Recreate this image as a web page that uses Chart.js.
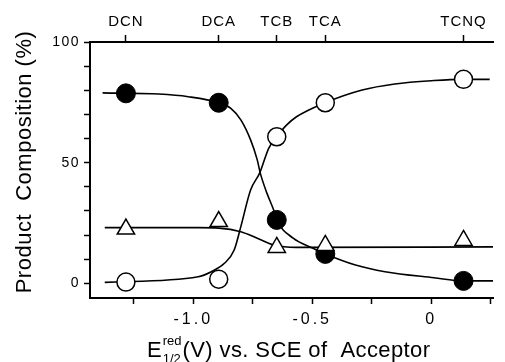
<!DOCTYPE html>
<html><head><meta charset="utf-8">
<script src="https://cdn.jsdelivr.net/npm/chart.js@4.4.1/dist/chart.umd.min.js"></script>
<style>html,body{margin:0;padding:0;background:#fff;}#wrap{width:505px;height:362px;}</style>
</head><body><div id="wrap"><canvas id="c" width="505" height="362"></canvas></div>
<script>
// ---- data ----
const acceptors = ['DCN', 'DCA', 'TCB', 'TCA', 'TCNQ'];
const acceptorE = [-1.283, -0.893, -0.649, -0.445, 0.136];
const filledPct = [78.8, 74.9, 26.3, 12.2, 1.0];
const openPct = [0.5, 1.7, 60.8, 74.9, 84.6];
const trianglePct = [22.5, 25.6, 14.9, 15.7, 17.8];

// smooth fitted curves
const filledCurveE = [-1.381, -1.145, -1.021, -0.893, -0.842, -0.800, -0.759, -0.731, -0.718, -0.690, -0.662, -0.649, -0.580, -0.497, -0.445, -0.318, -0.194, 0.012, 0.136, 0.260];
const filledCurvePct = [79.0, 78.5, 77.4, 74.9, 72.6, 67.8, 59.5, 51.2, 45.6, 37.3, 30.4, 26.3, 18.7, 14.5, 12.2, 7.6, 4.8, 2.3, 1.0, 1.0];
const openCurveE = [-1.372, -0.979, -0.924, -0.869, -0.828, -0.800, -0.759, -0.720, -0.683, -0.649, -0.607, -0.566, -0.446, -0.290, -0.153, 0.012, 0.132, 0.246];
const openCurvePct = [0.4, 2.7, 4.8, 8.3, 13.8, 23.5, 38.7, 45.9, 56.0, 60.8, 65.7, 69.1, 74.9, 80.2, 82.7, 84.1, 84.6, 84.6];
const triCurveE = [-1.372, -0.979, -0.893, -0.800, -0.731, -0.662, -0.566, 0.260];
const triCurvePct = [23.1, 23.1, 22.9, 21.4, 18.7, 15.9, 14.9, 15.1];

const xTicks = [-1.25, -1.0, -0.75, -0.5, -0.25, 0, 0.25];
const xLabelled = [-1.0, -0.5, 0];
const xLabelText = ['-1.0', '-0.5', '0'];
const yTicks = [0, 10, 20, 30, 40, 50, 60, 70, 80, 90, 100];
const yLabelled = [0, 50, 100];

const yTitle = 'Product  Composition (%)';
const xTitleMain = 'E', xTitleSup = 'red', xTitleSub = '1/2', xTitleRest = '(V) vs. SCE of  Acceptor';

const pts = (xs, ys) => xs.map((x, i) => ({x, y: ys[i]}));
const FONT = '"Liberation Sans", Arial, sans-serif';

const spacingPlugin = {
  id: 'spacing',
  beforeDraw(chart) {
    const sp = {x: '3px', x2: '1px', y: '1.5px'};
    for (const id in sp) {
      const s = chart.scales[id];
      if (!s || s._wrapped) continue;
      const orig = s.drawLabels.bind(s);
      s.drawLabels = function (area) {
        const c = this.ctx; const prev = c.letterSpacing;
        c.letterSpacing = sp[id]; orig(area); c.letterSpacing = prev || '0px';
      };
      s._wrapped = true;
    }
  }
};

const titlePlugin = {
  id: 'titles',
  afterDraw(chart) {
    const ctx = chart.ctx, a = chart.chartArea;
    ctx.save();
    ctx.fillStyle = '#000';
    ctx.textAlign = 'left';
    ctx.textBaseline = 'alphabetic';
    // x title
    let x = a.left + 57, y = 357;
    ctx.font = '22px ' + FONT;
    ctx.fillText(xTitleMain, x, y);
    x += ctx.measureText(xTitleMain).width + 1;
    ctx.font = '13px ' + FONT;
    ctx.fillText(xTitleSup, x, y - 12);
    ctx.fillText(xTitleSub, x, y + 6);
    x += Math.max(ctx.measureText(xTitleSup).width, ctx.measureText(xTitleSub).width) + 1;
    ctx.font = '22px ' + FONT;
    ctx.letterSpacing = '0.4px';
    ctx.fillText(xTitleRest, x, y);
    // y title
    ctx.translate(31, 162);
    ctx.rotate(-Math.PI / 2);
    ctx.textAlign = 'center';
    ctx.letterSpacing = '0.5px';
    ctx.fillText(yTitle, 0, 0);
    ctx.restore();
  }
};

const axisGrid = {display: true, drawOnChartArea: false, drawTicks: true, tickLength: 6, tickWidth: 1.5, tickColor: '#000'};
const axisBorder = {display: true, color: '#000', width: 2};

new Chart(document.getElementById('c'), {
  type: 'scatter',
  data: {
    datasets: [
      {label: 'triangle', data: pts(acceptorE, trianglePct), pointStyle: 'triangle', pointRadius: 10, pointBackgroundColor: '#fff', pointBorderColor: '#000', pointBorderWidth: 1.5, showLine: false, order: 0},
      {label: 'open', data: pts(acceptorE, openPct), pointStyle: 'circle', pointRadius: 9, pointBackgroundColor: '#fff', pointBorderColor: '#000', pointBorderWidth: 1.5, showLine: false, order: 1},
      {label: 'filled', data: pts(acceptorE, filledPct), pointStyle: 'circle', pointRadius: 9.5, pointBackgroundColor: '#000', pointBorderColor: '#000', pointBorderWidth: 1, showLine: false, order: 2},
      {label: 'filled fit', data: pts(filledCurveE, filledCurvePct), showLine: true, pointRadius: 0, borderColor: '#000', borderWidth: 1.6, cubicInterpolationMode: 'monotone', order: 5},
      {label: 'open fit', data: pts(openCurveE, openCurvePct), showLine: true, pointRadius: 0, borderColor: '#000', borderWidth: 1.6, cubicInterpolationMode: 'monotone', order: 5},
      {label: 'tri fit', data: pts(triCurveE, triCurvePct), showLine: true, pointRadius: 0, borderColor: '#000', borderWidth: 1.6, cubicInterpolationMode: 'monotone', order: 5}
    ]
  },
  options: {
    responsive: false,
    animation: false,
    devicePixelRatio: 1,
    layout: {padding: {left: 0, right: 5, top: 0, bottom: 32}},
    plugins: {legend: {display: false}, tooltip: {enabled: false}},
    scales: {
      x: {
        type: 'linear', position: 'bottom', min: -1.434, max: 0.262,
        grid: axisGrid, border: axisBorder,
        afterBuildTicks: s => { s.ticks = xTicks.map(v => ({value: v})); },
        afterFit: s => { s.height = 32; },
        ticks: {
          color: '#000', padding: 6, maxRotation: 0, autoSkip: false,
          font: {family: FONT, size: 16},
          callback: v => { const i = xLabelled.findIndex(t => Math.abs(t - v) < 1e-6); return i >= 0 ? xLabelText[i] : ''; }
        }
      },
      x2: {
        type: 'linear', position: 'top', min: -1.434, max: 0.262,
        grid: Object.assign({}, axisGrid, {tickLength: 7}), border: axisBorder,
        afterBuildTicks: s => { s.ticks = acceptorE.map(v => ({value: v})); },
        afterFit: s => { s.height = 42; },
        ticks: {
          color: '#000', padding: 4, maxRotation: 0, autoSkip: false,
          font: {family: FONT, size: 15},
          callback: (v, i) => acceptors[i]
        }
      },
      y: {
        type: 'linear', position: 'left', min: -6.1, max: 100.1,
        grid: axisGrid, border: axisBorder,
        afterBuildTicks: s => { s.ticks = yTicks.map(v => ({value: v})); },
        afterFit: s => { s.width = 90; },
        ticks: {
          color: '#000', padding: 4, autoSkip: false,
          font: {family: FONT, size: 14},
          callback: v => yLabelled.includes(v) ? String(v) : ''
        }
      }
    }
  },
  plugins: [spacingPlugin, titlePlugin]
});
</script></body></html>
